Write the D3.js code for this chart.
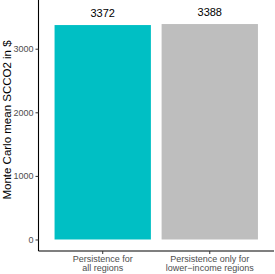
<!DOCTYPE html>
<html><head><meta charset="utf-8">
<script src="https://cdn.jsdelivr.net/npm/d3@7"></script>
<style>body{margin:0;background:#fff}svg{display:block}text{font-family:"Liberation Sans",Arial,Helvetica,sans-serif}</style>
</head><body>
<script>
const categories = ["Persistence for\nall regions", "Persistence only for\nlower\u2212income regions"];
const values = [3372, 3388];
const colors = ["#00BFC4", "#BEBEBE"];
const yTicks = [0, 1000, 2000, 3000];
const yTitle = "Monte Carlo mean SCCO2 in $";

(function () {
const W = 275, H = 274;
const svg = d3.select("body").append("svg").attr("width", W).attr("height", H);
const pLeft = 38.5, pRight = 274, pTop = 0, pBottom = 251;

const x = d3.scaleBand().domain(categories).range([pLeft, pRight]).paddingInner(0.1).paddingOuter(0.15);
const y = d3.scaleLinear().domain([-181, 3766]).range([pBottom, pTop]);

svg.selectAll("rect.bar").data(values).enter().append("rect")
  .attr("class", "bar")
  .attr("x", (d, i) => x(categories[i]))
  .attr("width", x.bandwidth())
  .attr("y", d => y(d))
  .attr("height", d => y(0) - y(d))
  .attr("fill", (d, i) => colors[i]);

svg.selectAll("text.val").data(values).enter().append("text")
  .attr("class", "val")
  .attr("x", (d, i) => x(categories[i]) + x.bandwidth() / 2)
  .attr("y", d => y(d) - 8.3)
  .attr("text-anchor", "middle")
  .attr("font-size", 11)
  .attr("fill", "#000")
  .text(d => d);

const ya = svg.append("g").attr("transform", `translate(${pLeft},0)`)
  .call(d3.axisLeft(y).tickValues(yTicks).tickFormat(d3.format("d")).tickSize(3).tickPadding(2));
ya.select(".domain").attr("d", `M0,${pTop}V${pBottom}`).attr("stroke", "#000").attr("stroke-width", 1.1);
ya.selectAll(".tick line").attr("stroke", "#333");
ya.selectAll(".tick text").attr("font-size", 9).attr("fill", "#4D4D4D");

const xa = svg.append("g").attr("transform", `translate(0,${pBottom})`)
  .call(d3.axisBottom(x).tickSize(3).tickFormat(""));
xa.select(".domain").attr("d", `M${pLeft},0H${pRight}`).attr("stroke", "#000").attr("stroke-width", 1.1);
xa.selectAll(".tick line").attr("stroke", "#333");

categories.forEach(c => {
  const lines = c.split("\n");
  const cx = x(c) + x.bandwidth() / 2;
  const t = svg.append("text")
    .attr("x", cx)
    .attr("y", 261.7)
    .attr("text-anchor", "middle")
    .attr("font-size", 9)
    .attr("fill", "#4D4D4D");
  lines.forEach((l, i) => t.append("tspan").attr("x", cx).attr("dy", i === 0 ? 0 : 9.6).text(l));
});

svg.append("text")
  .attr("transform", `translate(11,120) rotate(-90)`)
  .attr("text-anchor", "middle")
  .attr("font-size", 11.5)
  .attr("fill", "#000")
  .text(yTitle);
})();
</script>
</body></html>
